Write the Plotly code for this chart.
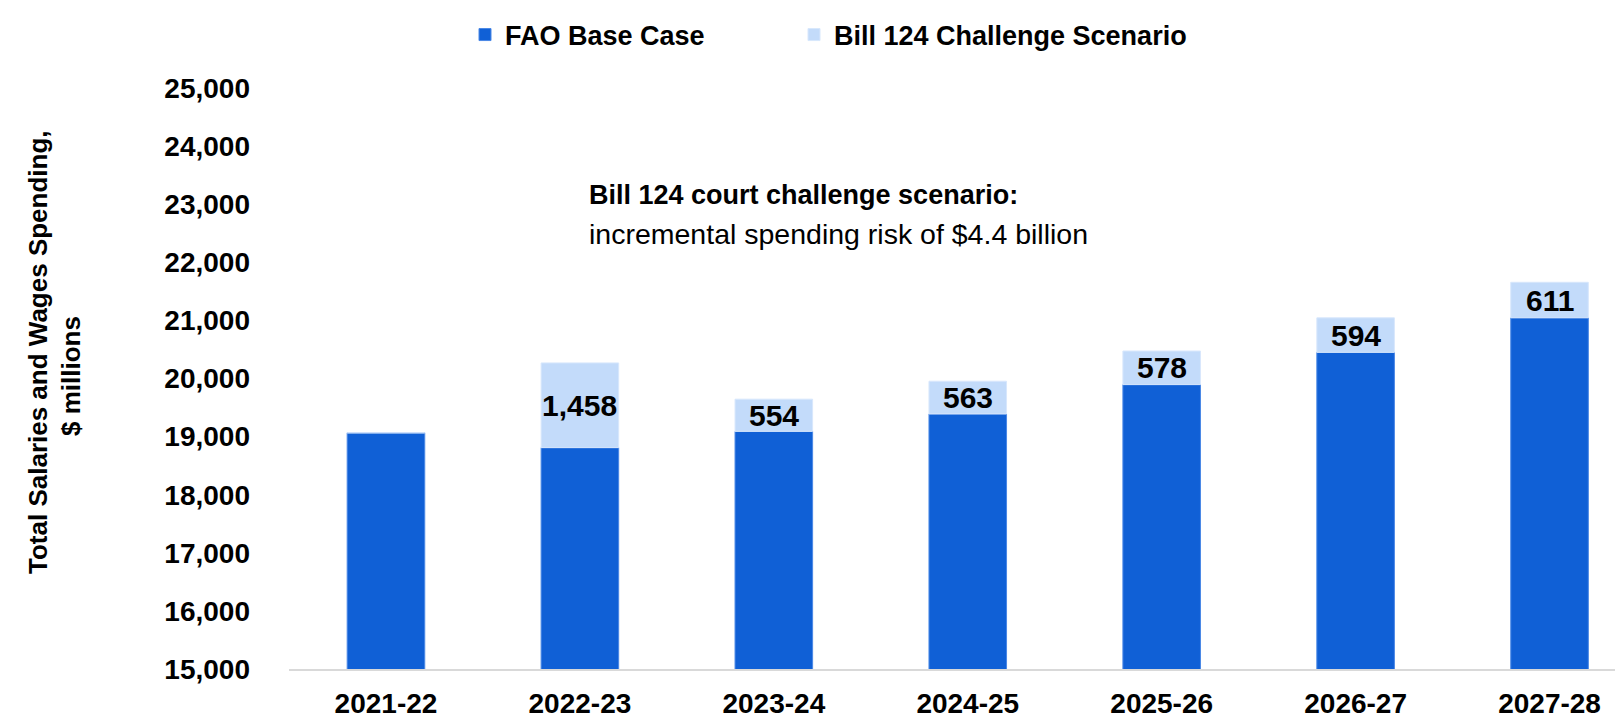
import plotly.graph_objects as go

years = ["2021-22", "2022-23", "2023-24", "2024-25", "2025-26", "2026-27", "2027-28"]
base_case = [19065, 18810, 19090, 19390, 19895, 20450, 21045]
challenge_inc = [0, 1458, 554, 563, 578, 594, 611]
inc_labels = ["", "1,458", "554", "563", "578", "594", "611"]
y_ticks = [15000, 16000, 17000, 18000, 19000, 20000, 21000, 22000, 23000, 24000, 25000]

DARK = "#1060D6"
LIGHT = "#C3DBFA"
FONT = "Liberation Sans, Arial, sans-serif"

W, H = 1623, 717
L, R, T, B = 281, 0, 80, 56
PW = W - L - R
PH = H - T - B


def px_x(p):
    return (p - L) / PW


def px_y(p):
    return (H - B - p) / PH


fig = go.Figure()
fig.add_trace(go.Bar(
    x=years, y=base_case, name="FAO Base Case",
    marker=dict(color=DARK, line=dict(color="#4a88e6", width=1)),
    base=0, legend="legend",
))
fig.add_trace(go.Bar(
    x=years, y=challenge_inc, base=base_case, name="Bill 124 Challenge Scenario",
    marker=dict(color=LIGHT, line=dict(color="#d8e7fc", width=1)),
    legend="legend2",
))

annotations = []
for yr, b, inc, lab in zip(years, base_case, challenge_inc, inc_labels):
    if lab:
        annotations.append(dict(
            x=yr, y=b + inc / 2, xref="x", yref="y", text=lab, showarrow=False,
            font=dict(family=FONT, size=30, color="#000000", weight="bold"),
            xanchor="center", yanchor="middle",
        ))

annotations.append(dict(
    x=px_x(579), y=px_y(187), xref="paper", yref="paper",
    text="Bill 124 court challenge scenario:", showarrow=False,
    xanchor="left", yanchor="middle",
    font=dict(family=FONT, size=27, color="#000000", weight="bold"),
))
annotations.append(dict(
    x=px_x(579), y=px_y(226), xref="paper", yref="paper",
    text="incremental spending risk of $4.4 billion", showarrow=False,
    xanchor="left", yanchor="middle",
    font=dict(family=FONT, size=28.5, color="#000000"),
))
annotations.append(dict(
    x=px_x(30), y=px_y(344), xref="paper", yref="paper",
    text="Total Salaries and Wages Spending,", showarrow=False, textangle=-90,
    xanchor="center", yanchor="middle",
    font=dict(family=FONT, size=26, color="#000000", weight="bold"),
))
annotations.append(dict(
    x=px_x(63), y=px_y(368), xref="paper", yref="paper",
    text="$ millions", showarrow=False, textangle=-90,
    xanchor="center", yanchor="middle",
    font=dict(family=FONT, size=26, color="#000000", weight="bold"),
))

legend_font = dict(family=FONT, size=27, color="#000000", weight="bold")

fig.update_layout(
    width=W, height=H,
    margin=dict(l=L, r=R, t=T, b=B, pad=0),
    barmode="overlay",
    bargap=0.6,
    plot_bgcolor="#ffffff", paper_bgcolor="#ffffff",
    showlegend=True,
    legend=dict(
        orientation="h", x=px_x(457), xanchor="left", y=px_y(27), yanchor="middle",
        font=legend_font, itemwidth=30,
    ),
    legend2=dict(
        orientation="h", x=px_x(786), xanchor="left", y=px_y(27), yanchor="middle",
        font=legend_font, itemwidth=30,
    ),
    annotations=annotations,
    xaxis=dict(
        range=[-0.5, 6.42], showgrid=False, showline=True, linecolor="#d9d9d9", linewidth=2,
        ticks="", tickfont=dict(family=FONT, size=28, color="#000000", weight="bold"),
        ticklabelstandoff=8, automargin=False, zeroline=False,
    ),
    yaxis=dict(
        range=[15000, 25000], tickvals=y_ticks, tickformat=",d", showgrid=False,
        showline=False, zeroline=False, ticks="",
        tickfont=dict(family=FONT, size=28, color="#000000", weight="bold"),
        ticklabelstandoff=38, automargin=False,
    ),
)

fig.write_html("out.html")
